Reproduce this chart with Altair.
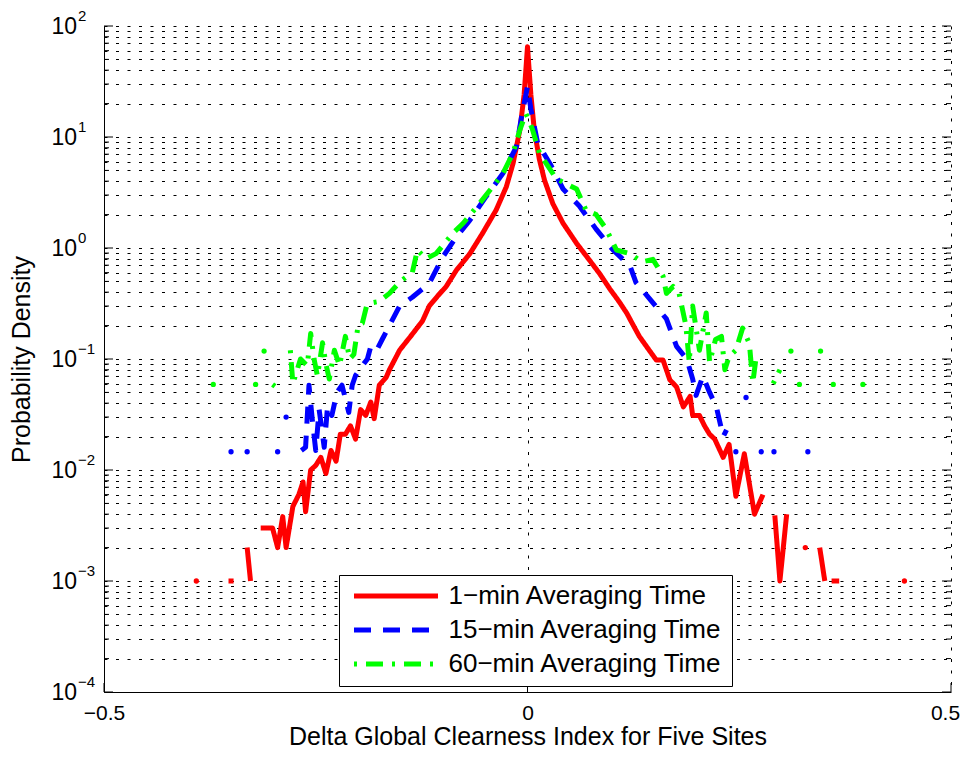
import altair as alt
import pandas as pd

FONT = "Liberation Sans, Arial, Helvetica, sans-serif"

SERIES = ["1−min Averaging Time", "15−min Averaging Time", "60−min Averaging Time"]
COLORS = ["#ff0000", "#0000ff", "#00ff00"]
DASHES = [[1, 0], [17, 12], [3, 9, 17, 9]]

X_TICKS = [-0.5, 0, 0.5]
Y_DECADES = [-4, -3, -2, -1, 0, 1, 2]

# None marks a break in the line (empty histogram bins on a log axis)
red_x = [-0.391, None,
         -0.353, -0.347, None,
         -0.331, -0.327, None,
         -0.315, -0.301, -0.295, -0.289, -0.285, -0.277, -0.270, -0.265, -0.262, -0.256,
         -0.250, -0.244, -0.238, -0.232, -0.226, -0.221, -0.215, -0.209, -0.203, -0.197,
         -0.191, -0.185, -0.181, -0.175, -0.167, -0.163, -0.151, -0.138, -0.124, -0.116,
         -0.106, -0.096, -0.084, -0.068, -0.053, -0.037, -0.025, -0.017, -0.009, -0.004,
         0.0, 0.004, 0.008, 0.014, 0.020, 0.030, 0.042, 0.058, 0.073, 0.085,
         0.097, 0.108, 0.117, 0.132, 0.142, 0.152, 0.160, 0.168, 0.176, 0.184,
         0.192, 0.195, 0.203, 0.209, 0.215, 0.221, 0.231, 0.238, 0.246, 0.256,
         0.268, 0.278, None,
         0.292, 0.298, 0.306, None,
         0.328, None,
         0.345, 0.351, None,
         0.359, 0.368, None,
         0.445]
red_y = [0.001, None,
         0.001, 0.001, None,
         0.002, 0.001, None,
         0.003, 0.003, 0.002, 0.0038, 0.002, 0.0047, 0.006, 0.0078, 0.0042, 0.010,
         0.011, 0.013, 0.0093, 0.015, 0.012, 0.021, 0.021, 0.025, 0.019, 0.035,
         0.031, 0.041, 0.029, 0.058, 0.068, 0.080, 0.12, 0.16, 0.22, 0.30,
         0.37, 0.45, 0.63, 0.89, 1.36, 2.2, 3.56, 5.8, 11.6, 24,
         65, 24, 11.6, 6.3, 4.1, 2.5, 1.67, 1.10, 0.78, 0.59,
         0.43, 0.33, 0.26, 0.16, 0.125, 0.098, 0.098, 0.065, 0.056, 0.037,
         0.046, 0.031, 0.031, 0.025, 0.021, 0.019, 0.013, 0.017, 0.0058, 0.014,
         0.004, 0.006, None,
         0.0039, 0.001, 0.004, None,
         0.002, None,
         0.002, 0.001, None,
         0.001, 0.001, None,
         0.001]

blue_x = [-0.350, None, -0.331, None, -0.295, None, -0.285, None,
          -0.267, -0.262, -0.258, -0.254, -0.250, -0.246, -0.240, -0.236, -0.231, -0.225,
          -0.219, -0.211, -0.207, -0.203, -0.195, -0.189, -0.185, -0.178, -0.171, -0.163,
          -0.151, -0.136, -0.116, -0.100, -0.084, -0.068, -0.049, -0.029, -0.013, -0.007,
          0.0, 0.004, 0.012, 0.028, 0.042, 0.061, 0.081, 0.101, 0.121, 0.128,
          0.144, 0.164, 0.176, 0.188, 0.195, 0.199, 0.207, 0.215, 0.223, 0.231,
          0.235, None,
          0.246, None, 0.258, None, 0.276, None, 0.291, None, 0.331]
blue_y = [0.0146, None, 0.0146, None, 0.0146, None, 0.030, None,
          0.015, 0.016, 0.058, 0.028, 0.015, 0.035, 0.016, 0.038, 0.031, 0.05,
          0.058, 0.033, 0.058, 0.071, 0.087, 0.10, 0.13, 0.12, 0.153, 0.20,
          0.30, 0.36, 0.48, 0.83, 1.26, 1.78, 2.9, 4.7, 8.2, 15.2,
          28.4, 17.8, 8.8, 5.5, 3.4, 2.4, 1.48, 0.96, 0.69, 0.49,
          0.35, 0.23, 0.13, 0.10, 0.066, 0.047, 0.07, 0.05, 0.037, 0.020,
          0.023, None,
          0.0146, None, 0.045, None, 0.0146, None, 0.0146, None, 0.0146]

green_x = [-0.371, None, -0.321, None, -0.311, None, -0.301, -0.297, None,
           -0.280, -0.277, -0.268, -0.260, -0.256, -0.252, -0.248, -0.242, -0.238, -0.234,
           -0.228, -0.222, -0.215, -0.210, -0.205, -0.200, -0.195, -0.190, -0.185, -0.175,
           -0.163, -0.150, -0.136, -0.130, -0.120, -0.108, -0.088, -0.076, -0.057, -0.037,
           -0.029, -0.017, -0.009, -0.002, 0.002, 0.006, 0.014, 0.034, 0.058, 0.069,
           0.081, 0.093, 0.105, 0.121, 0.135, 0.148, 0.160, 0.164, 0.172, 0.179,
           0.187, 0.191, 0.195, 0.203, 0.211, 0.215, 0.222, 0.229, 0.233, 0.238,
           0.246, 0.254, 0.262, 0.266, 0.270, None,
           0.290, 0.298, None, 0.311, None, 0.321, None, 0.346, None, 0.361, None, 0.396]
green_y = [0.059, None, 0.059, None, 0.118, None, 0.059, 0.056, None,
           0.12, 0.06, 0.10, 0.087, 0.17, 0.10, 0.07, 0.14, 0.09, 0.066,
           0.12, 0.087, 0.16, 0.10, 0.11, 0.20, 0.21, 0.30, 0.32, 0.33,
           0.39, 0.50, 0.60, 0.96, 0.80, 0.89, 1.36, 1.67, 2.5, 3.9,
           4.7, 7.2, 11.6, 16.3, 14, 11.6, 7.2, 4.2, 3.4, 2.2,
           2.0, 1.48, 0.96, 0.89, 0.75, 0.79, 0.56, 0.39, 0.45, 0.39,
           0.20, 0.093, 0.30, 0.12, 0.26, 0.093, 0.15, 0.16, 0.08, 0.105,
           0.12, 0.19, 0.137, 0.061, 0.105, None,
           0.06, 0.08, None, 0.118, None, 0.059, None, 0.118, None, 0.059, None, 0.059]

# ---------- build tidy table with path segments ----------
rows = []
for sid, (name, xs, ys) in enumerate(zip(SERIES, [red_x, blue_x, green_x], [red_y, blue_y, green_y])):
    assert len(xs) == len(ys), name
    seg = 0
    for x, y in zip(xs, ys):
        if x is None or y is None:
            seg += 1
            continue
        rows.append({"series": name, "sid": sid, "x": x, "y": y, "seg": f"{sid}-{seg}"})
df = pd.DataFrame(rows)
df["npts"] = df.groupby("seg")["x"].transform("count")

# ---------- scales / axes ----------
W, H = 847, 666
xscale = alt.Scale(domain=[-0.5, 0.5], nice=False, zero=False)
yscale = alt.Scale(type="log", domain=[1e-4, 1e2], nice=False)
cscale = alt.Scale(domain=SERIES, range=COLORS)
dscale = alt.Scale(domain=SERIES, range=DASHES)

Y_MAJOR = [10.0 ** k for k in Y_DECADES]
Y_MINOR = [m * 10.0 ** k for k in Y_DECADES[:-1] for m in range(2, 10)]
Y_GRID = sorted(Y_MAJOR + Y_MINOR)

GRID_DASH = [3, 8.5]

xaxis = alt.Axis(values=X_TICKS, format="~g", grid=True, gridDash=GRID_DASH, gridColor="black",
                 gridWidth=1, gridOpacity=1, ticks=False, labelFont=FONT, labelFontSize=21,
                 labelColor="black", labelPadding=10, labelFlush=False,
                 labelOffset={"condition": {"test": "datum.value >= 0.5", "value": -6}, "value": 0},
                 domainColor="black", domainWidth=1,
                 title="Delta Global Clearness Index for Five Sites",
                 titleFont=FONT, titleFontSize=25, titleFontWeight="normal", titleColor="black",
                 titleY=57, titleBaseline="bottom")
yaxis = alt.Axis(values=Y_GRID, labels=False, ticks=False, grid=True, gridDash=GRID_DASH,
                 gridColor="black", gridWidth=1, gridOpacity=1, domainColor="black", domainWidth=1,
                 title="Probability Density", titleFont=FONT, titleFontSize=25,
                 titleFontWeight="normal", titleColor="black", titleAngle=270, titleX=-75,
                 titleY=333, titleAlign="center", titleBaseline="alphabetic")

legend = alt.Legend(title=None, orient="none", legendX=235, legendY=549, direction="vertical",
                    symbolType="stroke", symbolSize=7056, symbolStrokeWidth=5, clipHeight=24,
                    labelFont=FONT, labelFontSize=26, labelColor="black", labelLimit=0,
                    padding=9, rowPadding=8, labelOffset=8, symbolOffset=3.5,
                    strokeColor="black", fillColor="white", cornerRadius=0)

layers = []

# data lines (red, blue, green drawn in that order); these carry the axes
for i, name in enumerate(SERIES):
    layers.append(
        alt.Chart(df).transform_filter(alt.datum.sid == i).mark_line(
            strokeWidth=5, strokeCap="butt", strokeJoin="round").encode(
            x=alt.X("x:Q", scale=xscale, axis=xaxis),
            y=alt.Y("y:Q", scale=yscale, axis=yaxis),
            color=alt.Color("series:N", scale=cscale, legend=legend if i == 0 else None),
            strokeDash=alt.StrokeDash("series:N", scale=dscale, legend=legend if i == 0 else None),
            detail="seg:N",
            order="x:Q",
        )
    )

# isolated non-empty bins show up as dots
for i, name in enumerate(SERIES):
    layers.append(
        alt.Chart(df).transform_filter((alt.datum.sid == i) & (alt.datum.npts == 1)).mark_circle(
            size=28, opacity=1, color=COLORS[i]).encode(
            x=alt.X("x:Q", scale=xscale, axis=xaxis),
            y=alt.Y("y:Q", scale=yscale, axis=yaxis),
        )
    )

# inward tick marks
ymaj_df = pd.DataFrame({"y": Y_MAJOR})
ymin_df = pd.DataFrame({"y": Y_MINOR})
xt_df = pd.DataFrame({"x": X_TICKS})
for d, ln in [(ymaj_df, 9), (ymin_df, 5)]:
    layers.append(alt.Chart(d).mark_rule(color="black", strokeWidth=1).encode(
        y=alt.Y("y:Q", scale=yscale, axis=yaxis), x=alt.value(0), x2=alt.value(ln)))
    layers.append(alt.Chart(d).mark_rule(color="black", strokeWidth=1).encode(
        y=alt.Y("y:Q", scale=yscale, axis=yaxis), x=alt.value(W - ln), x2=alt.value(W)))
layers.append(alt.Chart(xt_df).mark_rule(color="black", strokeWidth=1).encode(
    x=alt.X("x:Q", scale=xscale, axis=xaxis), y=alt.value(H - 9), y2=alt.value(H)))

# y tick labels: 10 with superscript exponent
ylab = pd.DataFrame({"y": Y_MAJOR, "base": ["10"] * len(Y_DECADES),
                     "exp": [str(k).replace("-", "−") for k in Y_DECADES]})
layers.append(alt.Chart(ylab).mark_text(align="right", baseline="middle", font=FONT, fontSize=23,
                                        color="black", dy=1).encode(
    y=alt.Y("y:Q", scale=yscale, axis=yaxis), x=alt.value(-27), text="base:N"))
layers.append(alt.Chart(ylab).mark_text(align="left", baseline="middle", font=FONT, fontSize=15,
                                        color="black", dy=-10).encode(
    y=alt.Y("y:Q", scale=yscale, axis=yaxis), x=alt.value(-26), text="exp:N"))

chart = alt.layer(*layers).properties(
    width=W, height=H,
    autosize=alt.AutoSizeParams(type="none"),
    padding={"left": 96, "top": 18, "right": 9, "bottom": 58},
    background="white",
).configure_view(stroke=None)

chart.save("out.html", embed_options={"renderer": "svg", "actions": False})
